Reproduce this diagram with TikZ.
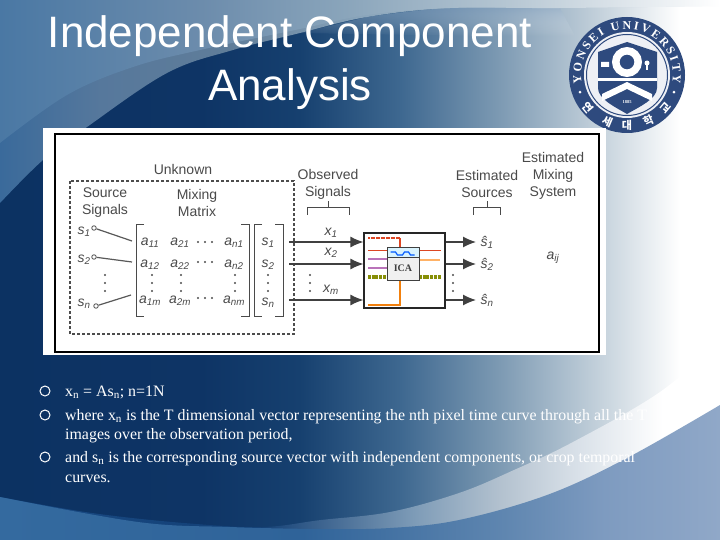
\documentclass[tikz,border=0pt]{standalone}
\usepackage{xcolor}
\usepackage{fontspec}
\setmainfont{Liberation Serif}
\setsansfont{Liberation Sans}
\newfontfamily\krfont{Noto Sans CJK KR}
\usepackage{tikz}
\usetikzlibrary{arrows.meta,positioning,calc,decorations.text,fadings}
\definecolor{YSblue}{HTML}{2E4A7E}
\definecolor{Labelgray}{HTML}{4A4A4A}
\definecolor{Navy}{HTML}{0C3262}
\definecolor{BaseA}{HTML}{0E3465}\definecolor{BaseB}{HTML}{16406F}\definecolor{BaseC}{HTML}{3E6890}\definecolor{BaseD}{HTML}{7D9AB3}\definecolor{BaseE}{HTML}{C5D2DC}
\definecolor{TopA}{HTML}{4A78A4}\definecolor{TopB}{HTML}{6C8CAC}\definecolor{TopC}{HTML}{8AA5BB}\definecolor{TopD}{HTML}{B4C5D2}
\definecolor{BandA}{HTML}{3A6A9B}\definecolor{BandB}{HTML}{56789C}\definecolor{BandC}{HTML}{607D99}
\definecolor{LowA}{HTML}{1A4B85}\definecolor{LowB}{HTML}{123F75}\definecolor{LowC}{HTML}{7D9BB7}\definecolor{LowD}{HTML}{B5C3D0}\definecolor{LowE}{HTML}{D8E0E8}
\definecolor{FootA}{HTML}{346A9F}\definecolor{FootB}{HTML}{2F6399}\definecolor{FootC}{HTML}{5F86B0}\definecolor{FootD}{HTML}{7E9BC0}\definecolor{FootE}{HTML}{90A8C8}
\pgfdeclarehorizontalshading{slidebase}{100bp}{
  color(0bp)=(Navy); color(25bp)=(Navy); color(38.9bp)=(BaseA); color(45.8bp)=(BaseB); color(52.8bp)=(BaseC);
  color(59.7bp)=(BaseD); color(66.7bp)=(BaseE); color(72.2bp)=(white); color(100bp)=(white)}
\pgfdeclarehorizontalshading{toplight}{100bp}{
  color(0bp)=(TopA); color(25bp)=(TopA); color(39bp)=(TopB); color(49bp)=(TopC); color(60bp)=(TopD); color(75bp)=(white); color(100bp)=(white)}
\pgfdeclarehorizontalshading{topband}{100bp}{
  color(0bp)=(BandA); color(25bp)=(BandA); color(32bp)=(BandB); color(41bp)=(BandC); color(50bp)=(TopC); color(65bp)=(TopD); color(75bp)=(white); color(100bp)=(white)}
\pgfdeclarehorizontalshading{lowband}{100bp}{
  color(0bp)=(LowA); color(25bp)=(LowA); color(43bp)=(LowB); color(53.7bp)=(LowC); color(60bp)=(LowD); color(65bp)=(LowE); color(71bp)=(white); color(100bp)=(white)}
\pgfdeclarehorizontalshading{footband}{100bp}{
  color(0bp)=(FootA); color(25bp)=(FootA); color(46bp)=(FootB); color(60bp)=(FootC); color(67bp)=(FootD); color(75bp)=(FootE); color(100bp)=(FootE)}
\tikzset{
  ica/title/.style={text=white, font=\sffamily\fontsize{44}{44}\selectfont, inner sep=0pt},
  ica/label/.style={text=Labelgray, font=\sffamily\fontsize{14}{17}\selectfont, align=center, inner sep=0pt},
  ica/sym/.style={text=Labelgray, font=\sffamily\itshape\fontsize{14}{14}\selectfont, inner sep=0pt},
  ica/body/.style={text=white, font=\fontsize{15.9}{17}\selectfont, anchor=base west, inner sep=0pt},
  ica/bullet/.style={draw=white, circle, line width=1pt, minimum size=10pt, inner sep=0pt},
  ica/brace/.style={draw=Labelgray, line width=0.9pt},
  ica/mix/.style={draw=black!65, line width=1.2pt},
  ica/pin/.style={draw=black!70, circle, thick, fill=white, minimum size=4.5pt, inner sep=0pt},
  ica/sig/.style={draw=black!75, line width=1.2pt, -{Latex[length=13pt,width=11pt]}},
  ica/dot/.style={fill=black!70, circle, minimum size=2.4pt, inner sep=0pt},
  ica/box/.style={draw=black!85, line width=1.2pt, fill=white, minimum width=81pt, minimum height=75pt, inner sep=0pt},
  ica/core/.style={draw=black!75, line width=1pt, fill=black!6, minimum width=32pt, minimum height=23pt, inner sep=0pt,
    font=\bfseries\fontsize{10}{10}\selectfont, text=black!75},
  ica/head/.style={draw=black!75, line width=1pt, fill=cyan!15, minimum width=32pt, minimum height=10pt, inner sep=0pt},
  ica/wire/.style={line width=1.6pt}
}
\newcommand{\subs}[2]{#1\textsubscript{#2}}

\begin{document}
\begin{tikzpicture}[x=1pt,y=-1pt]
  \useasboundingbox (0,0) rectangle (720,540);
  % slide background
  \shade[shading=slidebase] (0,0) rectangle (720,540);
  \shade[top color=FootC!70!white, bottom color=white, opacity=.45, path fading=south] (300,33) -- plot[smooth,tension=.6] coordinates {(367,17) (450,8) (560,8)} -- (575,36) -- (470,36) -- cycle;
  \shade[shading=topband] (0,0) -- plot[smooth,tension=.6] coordinates {(0,203) (43,160) (87,127) (167,73) (233,50) (300,33) (367,17) (450,8) (560,8) (720,6)} -- (720,0) -- cycle;
  \shade[shading=toplight] (0,0) -- plot[smooth,tension=.6] coordinates {(0,143) (67,95) (133,67) (200,50) (300,29) (367,15) (450,8) (560,8) (720,6)} -- (720,0) -- cycle;
  \shade[shading=lowband] (0,540) -- plot[smooth,tension=.6] coordinates {(0,497) (92,513) (184,523) (262,527) (321,520) (390,512) (459,493) (514,470) (573,442) (660,392) (720,340)} -- (720,540) -- cycle;
  \shade[shading=footband] (0,540) -- plot[smooth,tension=.6] coordinates {(0,497) (138,522) (230,527) (321,529) (390,528) (459,520) (547,495) (627,458) (720,405)} -- (720,540) -- cycle;
  % title
  \node[ica/title] (title1) at (290,36) {Independent Component};
  \node[ica/title] (title2) at (290,89) {Analysis};
  % seal
  \begin{scope}[shift={(627,75)},x=1pt,y=1pt]
    \fill[YSblue] (0,0) circle (58);
    \fill[white!92!YSblue] (0,0) circle (43);
    \draw[YSblue, line width=1pt] (0,0) circle (40.5);
    \path[decorate, decoration={text along path, text align={fit to path},
      text={|\bfseries\fontsize{12}{12}\selectfont\color{white}|YONSEI UNIVERSITY}}]
      (190:46) arc[start angle=190,end angle=-10,radius=46];
    \foreach \ang/\syl [count=\i] in {220/연,247/세,270/대,295/학,320/교}
      \node[text=white, font=\krfont\bfseries\fontsize{11}{11}\selectfont, rotate=\ang+90, inner sep=0pt] (kor\i) at (\ang:50.5) {\syl};
    \fill[white] (200:50) circle (1.5) (-20:50) circle (1.5);
    \fill[YSblue] (-29,23) -- (0,33) -- (30,23) -- (30,-13) .. controls (30,-24) and (12,-32) .. (0,-39)
      .. controls (-12,-32) and (-29,-24) .. (-29,-13) -- cycle;
    \fill[white] (-29,-3) rectangle (30,-6);
    \fill[white] (-25,-26) -- (0,-14) -- (25,-26) -- (25,-19) -- (0,-7) -- (-25,-19) -- cycle;
    \draw[white, line width=7.5pt] (0,13) circle (11.2);
    \fill[white] (-26,8) rectangle (-18,13) (20,12) circle (2.5);
    \fill[white] (19,5) rectangle (21,10);
    \node[text=white, font=\bfseries\fontsize{4.5}{4.5}\selectfont, inner sep=0pt] (founded) at (0,-27) {1885};
  \end{scope}
  % figure panel
  \fill[white] (43,128) rectangle (606,355);
  \draw[black, line width=1.2pt] (55,134) rectangle (599,352);
  \draw[black!70, line width=1.1pt, dash pattern=on 3pt off 2pt] (70,181) rectangle (294,334);
  % headings
  \node[ica/label] (unknown) at (183,169) {Unknown};
  \node[ica/label] (source) at (105,203) {Source\\Signals};
  \node[ica/label] (mixing) at (197,203) {Mixing\\Matrix};
  \node[ica/label] (observed) at (328,184) {Observed\\Signals};
  \node[ica/label] (sources) at (487,184) {Estimated\\Sources};
  \node[ica/label] (system) at (553,176) {Estimated\\Mixing\\System};
  % source signals
  \node[ica/sym] (s1) at (84,232) {\subs{s}{1}};
  \node[ica/sym] (s2) at (84,260) {\subs{s}{2}};
  \node[ica/sym] (sn) at (84,304) {\subs{s}{n}};
  \node[ica/pin] (pin1) at (94,228) {};
  \node[ica/pin] (pin2) at (94,257) {};
  \node[ica/pin] (pinn) at (96,306) {};
  \coordinate (mix1) at (132,241);
  \coordinate (mix2) at (132,262);
  \coordinate (mixn) at (131,295);
  \draw[ica/mix] (pin1)--(mix1);
  \draw[ica/mix] (pin2)--(mix2);
  \draw[ica/mix] (pinn)--(mixn);
  % matrix entries
  \foreach \yy/\rr in {243/1,265/2,301/m}{
    \foreach \xx/\cc in {150/1,180/2,234/n}
      \node[ica/sym] (a\cc\rr) at (\xx,\yy) {\subs{a}{\cc\rr}};
  }
  \foreach \yy/\nm in {243/1,265/2,303/n}
    \node[ica/sym] (sv\nm) at (268,\yy) {\subs{s}{\nm}};
  \foreach \xx/\cc in {198/1,205/2,212/3}{
    \node[ica/dot] (ha\cc) at (\xx,242) {};
    \node[ica/dot] (hb\cc) at (\xx,262) {};
    \node[ica/dot] (hc\cc) at (\xx,298) {};
  }
  \foreach \xx/\cc in {105/a,152/b,181/c,235/d,268/e,310/f,453/g}{
    \node[ica/dot] (va\cc) at (\xx,275) {};
    \node[ica/dot] (vb\cc) at (\xx,283) {};
    \node[ica/dot] (vc\cc) at (\xx,291) {};
  }
  % brackets
  \draw[ica/brace] (144,224) -- (136,224) -- (136,316) -- (144,316);
  \draw[ica/brace] (241,224) -- (249,224) -- (249,316) -- (241,316);
  \draw[ica/brace] (262,224) -- (254,224) -- (254,316) -- (262,316);
  \draw[ica/brace] (275,224) -- (283,224) -- (283,316) -- (275,316);
  \draw[ica/brace] (307,215) -- (307,207) -- (349,207) -- (349,215) (328,207) -- (328,201);
  \draw[ica/brace] (473,215) -- (473,207) -- (500,207) -- (500,215) (487,207) -- (487,201);
  % ICA block
  \node[ica/box] (icabox) at (404.5,270.5) {};
  \draw[ica/wire, draw=red!45!brown, dash pattern=on 2pt off 0.5pt, line width=2.4pt] (368,238) -- (400,238);
  \draw[ica/wire, draw=red!45!brown] (400,238) -- (400,247);
  \draw[ica/wire, draw=red!45!brown, double, double distance=1pt, line width=0.9pt] (368,251) -- (387,251) (419,251) -- (441,251);
  \draw[ica/wire, draw=orange!60] (419,260) -- (440,260);
  \draw[ica/wire, draw=violet!55] (368,259) -- (387,259) (368,268) -- (387,268);
  \draw[ica/wire, draw=olive!85!green, dash pattern=on 3pt off 0.7pt, line width=3.4pt] (368,277) -- (387,277) (419,277) -- (441,277);
  \node[ica/core] (icacore) at (403,268.5) {ICA};
  \node[ica/head, above=-1pt of icacore] (icahead) {};
  \draw[blue!65!cyan, line width=1.2pt] ([xshift=4pt]icahead.west) -- ++(5,0) -- ++(2,3) -- ++(5,0) -- ++(2,-3) -- ++(4,0) -- ++(2,3) -- ++(4,0);
  \coordinate (drop) at (400,305);
  \coordinate (feed) at (368,305);
  \draw[ica/wire, draw=orange!80!brown, line width=2pt] (icacore.south -| drop) -- (drop) -- (feed);
  % observed and estimated signals
  \foreach \yy/\nm/\xy in {242/1/233,264/2/253,300/m/290}{
    \coordinate (in\nm) at (289,\yy);
    \draw[ica/sig] (in\nm) -- (in\nm -| icabox.west);
    \node[ica/sym] (x\nm) at (331,\xy) {\subs{x}{\nm}};
  }
  \foreach \yy/\nm [count=\i] in {242/1,264/2,300/n}{
    \coordinate (out\i) at (476,\yy);
    \draw[ica/sig] (icabox.east |- out\i) -- (out\i);
    \node[ica/sym] (est\i) at (487,\yy) {\subs{\^s}{\nm}};
  }
  \node[ica/sym] (aij) at (553,258) {\subs{a}{ij}};
  % text
  \node[ica/bullet] (bul1) at (45,391) {};
  \node[ica/bullet] (bul2) at (45,415) {};
  \node[ica/bullet] (bul3) at (45,457) {};
  \node[ica/body] (txt1) at (65,396) {\subs{x}{n} = A\subs{s}{n}; n=1N};
  \node[ica/body] (txt2) at (65,420) {where \subs{x}{n} is the T dimensional vector representing the nth pixel time curve through all the T};
  \node[ica/body] (txt3) at (65,439) {images over the observation period,};
  \node[ica/body] (txt4) at (65,462) {and \subs{s}{n} is the corresponding source vector with independent components, or crop temporal};
  \node[ica/body] (txt5) at (65,482) {curves.};
\end{tikzpicture}
\end{document}
